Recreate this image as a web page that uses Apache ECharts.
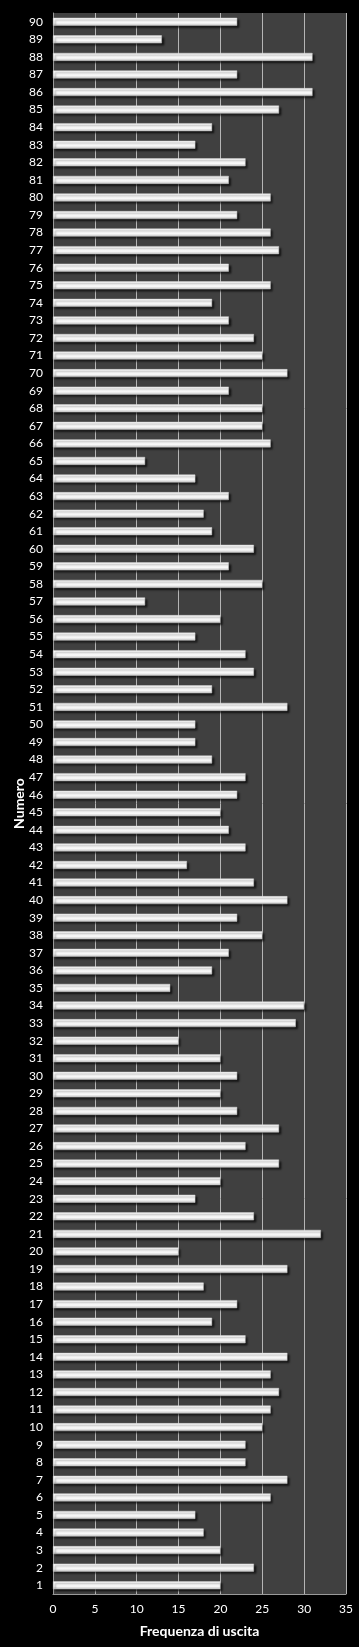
<!DOCTYPE html>
<html>
<head>
<meta charset="utf-8">
<script src="https://cdn.jsdelivr.net/npm/echarts@6/dist/echarts.min.js"></script>
<style>
  html, body { margin: 0; padding: 0; background: #000; }
  #chart { width: 359px; height: 1647px; }
</style>
</head>
<body>
<div id="chart"></div>
<script>
// numeri estratti (asse verticale)
const numeri = [
  "1","2","3","4","5","6","7","8","9","10",
  "11","12","13","14","15","16","17","18","19","20",
  "21","22","23","24","25","26","27","28","29","30",
  "31","32","33","34","35","36","37","38","39","40",
  "41","42","43","44","45","46","47","48","49","50",
  "51","52","53","54","55","56","57","58","59","60",
  "61","62","63","64","65","66","67","68","69","70",
  "71","72","73","74","75","76","77","78","79","80",
  "81","82","83","84","85","86","87","88","89","90"
];
// frequenza di uscita per numero
const frequenze = [
  20, 24, 20, 18, 17, 26, 28, 23, 23, 25,
  26, 27, 26, 28, 23, 19, 22, 18, 28, 15,
  32, 24, 17, 20, 27, 23, 27, 22, 20, 22,
  20, 15, 29, 30, 14, 19, 21, 25, 22, 28,
  24, 16, 23, 21, 20, 22, 23, 19, 17, 17,
  28, 19, 24, 23, 17, 20, 11, 25, 21, 24,
  19, 18, 21, 17, 11, 26, 25, 25, 21, 28,
  25, 24, 21, 19, 26, 21, 27, 26, 22, 26,
  21, 23, 17, 19, 27, 31, 22, 31, 13, 22
];
const xMin = 0;
const xMax = 35;
const xStep = 5;

const chart = echarts.init(document.getElementById("chart"));
const font = "Lato, 'Open Sans', sans-serif";

chart.setOption({
  backgroundColor: "#000",
  animation: false,
  grid: {
    left: 53,
    right: 13,
    top: 13,
    bottom: 53,
    outerBoundsMode: "none",
    containLabel: false,
    show: true,
    backgroundColor: "#404040",
    borderWidth: 0
  },
  xAxis: {
    type: "value",
    min: xMin,
    max: xMax,
    interval: xStep,
    name: "Frequenza di uscita",
    nameLocation: "middle",
    nameGap: 30,
    nameMoveOverlap: false,
    nameTextStyle: { color: "#fff", fontSize: 14, fontWeight: "bold", fontFamily: font },
    axisLine: { show: true, lineStyle: { color: "#9a9a9a", width: 1 } },
    axisTick: { show: false },
    axisLabel: { color: "#fff", fontSize: 12, margin: 9, fontFamily: font },
    splitLine: { show: true, lineStyle: { color: "#b5b5b5", width: 1 } }
  },
  yAxis: {
    type: "category",
    data: numeri,
    name: "Numero",
    nameLocation: "middle",
    nameGap: 27,
    nameMoveOverlap: false,
    nameTextStyle: { color: "#fff", fontSize: 14, fontWeight: "bold", fontFamily: font },
    axisLine: { show: true, lineStyle: { color: "#9a9a9a", width: 1 } },
    axisTick: { show: false },
    axisLabel: { color: "#fff", fontSize: 12, margin: 10, interval: 0, fontFamily: font },
    splitLine: { show: false }
  },
  series: [
    {
      type: "bar",
      data: frequenze,
      barWidth: 8,
      itemStyle: {
        color: new echarts.graphic.LinearGradient(0, 0, 0, 1, [
          { offset: 0, color: "#ffffff" },
          { offset: 0.65, color: "#f8f8f8" },
          { offset: 1, color: "#bdbdbd" }
        ]),
        borderColor: "#cfcfcf",
        borderWidth: 0.5,
        shadowColor: "rgba(0,0,0,0.7)",
        shadowBlur: 2,
        shadowOffsetX: 2,
        shadowOffsetY: 2
      }
    }
  ]
});
</script>
</body>
</html>
